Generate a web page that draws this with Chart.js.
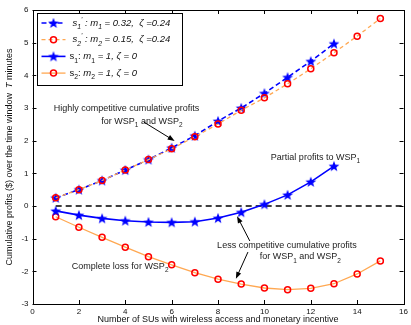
<!DOCTYPE html>
<html>
<head>
<meta charset="utf-8">
<script src="https://cdn.jsdelivr.net/npm/chart.js@4/dist/chart.umd.min.js"></script>
<style>
    html, body { margin: 0; padding: 0; background: #fff; }
    #wrap { width: 411px; height: 325px; }
</style>
</head>
<body>
<div id="wrap"><canvas id="profitChart" width="411" height="325"></canvas></div>
<script>
// number of SUs
const usersShort = [1, 2, 3, 4, 5, 6, 7, 8, 9, 10, 11, 12, 13];
const usersLong = [1, 2, 3, 4, 5, 6, 7, 8, 9, 10, 11, 12, 13, 14, 15];
// cumulative profits
const s1Prime = [0.25, 0.5, 0.78, 1.1, 1.42, 1.78, 2.15, 2.6, 3.0, 3.45, 3.94, 4.43, 4.97];
const s2Prime = [0.25, 0.5, 0.78, 1.1, 1.42, 1.75, 2.12, 2.51, 2.93, 3.31, 3.74, 4.2, 4.69, 5.2, 5.74];
const s1 = [-0.15, -0.28, -0.38, -0.45, -0.49, -0.5, -0.48, -0.37, -0.19, 0.05, 0.34, 0.74, 1.22];
const s2 = [-0.33, -0.65, -0.96, -1.26, -1.55, -1.8, -2.04, -2.24, -2.39, -2.51, -2.56, -2.52, -2.38, -2.08, -1.68];
const zeroLineX = [1, 16];
const zeroLineY = [0, 0];

const xTicks = [0, 2, 4, 6, 8, 10, 12, 14, 16];
const yTicks = [-3, -2, -1, 0, 1, 2, 3, 4, 5, 6];

const BLUE = "#0000ff";
const ORANGE = "#ffa852";
const RED = "#ff0000";
const FONT = "'Liberation Sans', Arial, sans-serif";

function toPoints(xs, ys) {
    return xs.map((x, i) => ({ x: x, y: ys[i] }));
}

// filled five point star used as marker
function makeStar(size, color) {
    const c = document.createElement("canvas");
    c.width = size;
    c.height = size;
    const g = c.getContext("2d");
    const cx = size / 2, cy = size / 2 + 0.4;
    const ro = size / 2 - 0.3, ri = ro * 0.42;
    g.beginPath();
    for (let i = 0; i < 10; i++) {
        const r = i % 2 === 0 ? ro : ri;
        const a = -Math.PI / 2 + i * Math.PI / 5;
        const px = cx + r * Math.cos(a), py = cy + r * Math.sin(a);
        if (i === 0) g.moveTo(px, py); else g.lineTo(px, py);
    }
    g.closePath();
    g.fillStyle = color;
    g.fill();
    return c;
}
const star = makeStar(12, BLUE);

// draws text with sub/superscripts, returns width
function richText(ctx, parts, x, y, size, measureOnly) {
    let cx = x;
    parts.forEach((p) => {
        const small = p.sub || p.sup;
        const fs = small ? size * 0.72 : size;
        ctx.font = (p.it ? "italic " : "") + fs + "px " + FONT;
        const dy = p.sub ? size * 0.45 : p.sup ? -size * 0.35 : 0;
        if (!measureOnly) ctx.fillText(p.t, cx, y + dy);
        cx += ctx.measureText(p.t).width;
    });
    return cx - x;
}

function centeredRich(ctx, parts, x, y, size) {
    const w = richText(ctx, parts, 0, 0, size, true);
    richText(ctx, parts, x - w / 2, y, size, false);
}

function arrow(ctx, x1, y1, x2, y2) {
    const a = Math.atan2(y2 - y1, x2 - x1);
    const hl = 7, hw = 2.6;
    ctx.strokeStyle = "#000";
    ctx.fillStyle = "#000";
    ctx.lineWidth = 1;
    ctx.beginPath();
    ctx.moveTo(x1, y1);
    ctx.lineTo(x2 - hl * 0.7 * Math.cos(a), y2 - hl * 0.7 * Math.sin(a));
    ctx.stroke();
    ctx.beginPath();
    ctx.moveTo(x2, y2);
    ctx.lineTo(x2 - hl * Math.cos(a) + hw * Math.sin(a), y2 - hl * Math.sin(a) - hw * Math.cos(a));
    ctx.lineTo(x2 - hl * Math.cos(a) - hw * Math.sin(a), y2 - hl * Math.sin(a) + hw * Math.cos(a));
    ctx.closePath();
    ctx.fill();
}

const yTitle = [{ t: "Cumulative profits ($) over the time window  " }, { t: "T", it: true }, { t: " minutes" }];

const notes = [
    { x: 4.05, y: 2.97, parts: [{ t: "Highly competitive cumulative profits" }] },
    { x: 4.72, y: 2.6, parts: [{ t: "for WSP" }, { t: "1", sub: true }, { t: " and WSP" }, { t: "2", sub: true }] },
    { x: 12.2, y: 1.48, parts: [{ t: "Partial profits to WSP" }, { t: "1", sub: true }] },
    { x: 10.97, y: -1.22, parts: [{ t: "Less competitive cumulative profits" }] },
    { x: 11.55, y: -1.56, parts: [{ t: "for WSP" }, { t: "1", sub: true }, { t: " and WSP" }, { t: "2", sub: true }] },
    { x: 3.78, y: -1.84, parts: [{ t: "Complete loss for WSP" }, { t: "2", sub: true }] },
];
const arrows = [
    [4.8, 2.57, 6.13, 1.99],
    [9.37, -1.07, 8.82, -0.31],
    [9.29, -1.41, 8.77, -2.23],
];

const legendItems = [
    { color: BLUE, dash: [5, 3], width: 1.6, mark: "star",
      parts: [{ t: "s", it: true }, { t: "1", sub: true, it: true }, { t: "'", sup: true, it: true }, { t: " : m", it: true }, { t: "1", sub: true, it: true }, { t: " = 0.32,  ζ =0.24", it: true }] },
    { color: ORANGE, dash: [4, 3], width: 1.3, mark: "circle",
      parts: [{ t: "s", it: true }, { t: "2", sub: true, it: true }, { t: "'", sup: true, it: true }, { t: " : m", it: true }, { t: "2", sub: true, it: true }, { t: " = 0.15,  ζ =0.24", it: true }] },
    { color: BLUE, dash: [], width: 1.6, mark: "star",
      parts: [{ t: "s" }, { t: "1", sub: true }, { t: ": " }, { t: "m", it: true }, { t: "1", sub: true }, { t: " = 1, ", it: true }, { t: "ζ = 0", it: true }] },
    { color: ORANGE, dash: [], width: 1.3, mark: "circle",
      parts: [{ t: "s" }, { t: "2", sub: true }, { t: ": " }, { t: "m", it: true }, { t: "2", sub: true }, { t: " = 1, ", it: true }, { t: "ζ = 0", it: true }] },
];

const decorPlugin = {
    id: "decor",
    afterDraw(chart) {
        const ctx = chart.ctx;
        const a = chart.chartArea;
        const xs = chart.scales.x, ys = chart.scales.y;
        ctx.save();

        // box and inward ticks
        ctx.strokeStyle = "#000";
        ctx.lineWidth = 1;
        ctx.setLineDash([]);
        ctx.strokeRect(Math.round(a.left) + 0.5, Math.round(a.top) + 0.5, Math.round(a.right - a.left), Math.round(a.bottom - a.top));
        ctx.beginPath();
        xTicks.forEach((v) => {
            const px = Math.round(xs.getPixelForValue(v)) + 0.5;
            ctx.moveTo(px, a.bottom); ctx.lineTo(px, a.bottom - 4);
            ctx.moveTo(px, a.top); ctx.lineTo(px, a.top + 4);
        });
        yTicks.forEach((v) => {
            const py = Math.round(ys.getPixelForValue(v)) + 0.5;
            ctx.moveTo(a.left, py); ctx.lineTo(a.left + 4, py);
            ctx.moveTo(a.right, py); ctx.lineTo(a.right - 4, py);
        });
        ctx.stroke();

        ctx.textBaseline = "middle";
        ctx.textAlign = "left";

        // y axis title with italic T
        ctx.save();
        ctx.fillStyle = "#111";
        ctx.translate(9.5, (a.top + a.bottom) / 2);
        ctx.rotate(-Math.PI / 2);
        centeredRich(ctx, yTitle, 0, 0, 9);
        ctx.restore();

        // annotations
        ctx.fillStyle = "#222";
        notes.forEach((n) => {
            centeredRich(ctx, n.parts, xs.getPixelForValue(n.x), ys.getPixelForValue(n.y), 9);
        });
        arrows.forEach((r) => {
            arrow(ctx, xs.getPixelForValue(r[0]), ys.getPixelForValue(r[1]), xs.getPixelForValue(r[2]), ys.getPixelForValue(r[3]));
        });

        // legend box
        const lx = a.left + 4, ly = a.top + 3, lw = 145, lh = 72;
        ctx.fillStyle = "#fff";
        ctx.fillRect(lx, ly, lw, lh);
        ctx.strokeStyle = "#000";
        ctx.lineWidth = 1;
        ctx.strokeRect(Math.round(lx) + 0.5, Math.round(ly) + 0.5, lw, lh);
        legendItems.forEach((it, i) => {
            const y = ly + 10 + i * 16.7;
            ctx.strokeStyle = it.color;
            ctx.lineWidth = it.width;
            ctx.setLineDash(it.dash);
            ctx.beginPath();
            ctx.moveTo(lx + 5, y); ctx.lineTo(lx + 29, y);
            ctx.stroke();
            ctx.setLineDash([]);
            const mx = lx + 17;
            if (it.mark === "star") {
                ctx.drawImage(star, mx - 6, y - 6);
            } else {
                ctx.strokeStyle = RED;
                ctx.lineWidth = 1.5;
                ctx.beginPath();
                ctx.arc(mx, y, 3, 0, Math.PI * 2);
                ctx.stroke();
            }
            ctx.fillStyle = "#111";
            richText(ctx, it.parts, lx + (i < 2 ? 36 : 33), y, 9.5, false);
        });
        ctx.restore();
    },
};

const ctx = document.getElementById("profitChart").getContext("2d");
new Chart(ctx, {
    type: "line",
    data: {
        datasets: [
            {
                label: "zero",
                data: toPoints(zeroLineX, zeroLineY),
                borderColor: "#000",
                borderWidth: 1.5,
                borderDash: [6, 4],
                pointRadius: 0,
                order: 5,
            },
            {
                label: "s2'",
                data: toPoints(usersLong, s2Prime),
                borderColor: ORANGE,
                borderWidth: 1.3,
                borderDash: [4, 3],
                pointStyle: "circle",
                pointRadius: 3,
                pointBorderColor: RED,
                pointBorderWidth: 1.5,
                pointBackgroundColor: "rgba(0,0,0,0)",
                order: 1,
            },
            {
                label: "s1'",
                data: toPoints(usersShort, s1Prime),
                borderColor: BLUE,
                borderWidth: 1.6,
                borderDash: [5, 3],
                pointStyle: star,
                order: 2,
            },
            {
                label: "s2",
                data: toPoints(usersLong, s2),
                borderColor: ORANGE,
                borderWidth: 1.3,
                pointStyle: "circle",
                pointRadius: 3,
                pointBorderColor: RED,
                pointBorderWidth: 1.5,
                pointBackgroundColor: "rgba(0,0,0,0)",
                order: 4,
            },
            {
                label: "s1",
                data: toPoints(usersShort, s1),
                borderColor: BLUE,
                borderWidth: 1.6,
                pointStyle: star,
                order: 3,
            },
        ],
    },
    options: {
        responsive: false,
        animation: false,
        layout: { padding: { top: 10, right: 4, left: 0, bottom: 0 } },
        plugins: { legend: { display: false }, tooltip: { enabled: false } },
        scales: {
            x: {
                type: "linear",
                min: 0,
                max: 16,
                afterBuildTicks: (s) => { s.ticks = xTicks.map((v) => ({ value: v })); },
                afterFit: (s) => { s.height = 21; },
                grid: { display: false, drawTicks: false },
                border: { display: false },
                ticks: { font: { family: FONT, size: 8 }, color: "#111", padding: 3, maxRotation: 0 },
                title: {
                    display: true,
                    text: "Number of SUs with wireless access and monetary incentive",
                    font: { family: FONT, size: 9 },
                    color: "#111",
                    padding: { top: 0, bottom: 0 },
                },
            },
            y: {
                min: -3,
                max: 6,
                afterBuildTicks: (s) => { s.ticks = yTicks.map((v) => ({ value: v })); },
                afterFit: (s) => { s.width = 32.5; },
                grid: { display: false, drawTicks: false },
                border: { display: false },
                ticks: { font: { family: FONT, size: 8 }, color: "#111", padding: 4 },
            },
        },
    },
    plugins: [decorPlugin],
});
</script>
</body>
</html>
